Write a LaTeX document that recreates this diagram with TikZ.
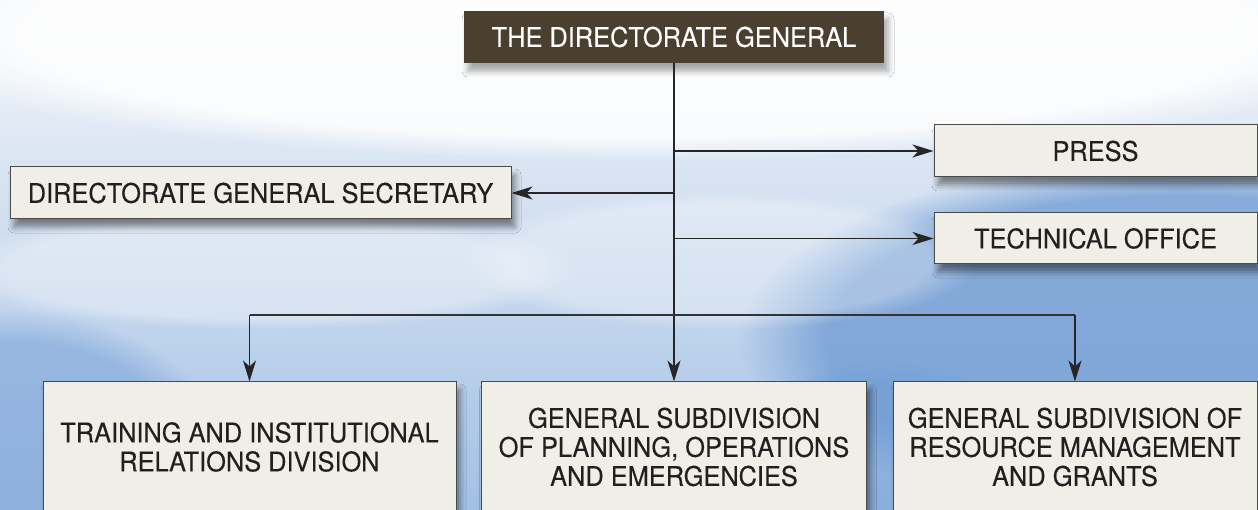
\documentclass[tikz,border=0pt]{standalone}
\usepackage{fontspec}
\setmainfont{TeX Gyre Heros}[FakeStretch=0.94, FakeBold=0.25]
\usetikzlibrary{arrows.meta,shadows.blur,fadings}
\definecolor{boxfill}{HTML}{F0EFE7}
\definecolor{boxline}{HTML}{4A4A4A}
\definecolor{topfill}{HTML}{4B3F2F}
\definecolor{txt}{HTML}{231F20}
\definecolor{skytop}{HTML}{F5F7FA}
\definecolor{skymid}{HTML}{CBDBEF}
\definecolor{skybot}{HTML}{A2C0E5}
\definecolor{skydeep}{HTML}{6E9AD3}
\definecolor{skyleft}{HTML}{7FA6D9}
\begin{document}
\begin{tikzpicture}[x=1pt,y=-1pt,
  orgbox/.style={draw=boxline, line width=1pt, fill=boxfill, text=txt, align=center,
    inner sep=0pt, font=\fontsize{27}{29}\selectfont,
    blur shadow={shadow xshift=4pt, shadow yshift=-8pt, shadow blur radius=6pt, shadow opacity=45}},
  topbox/.style={fill=topfill, text=white, align=center, inner sep=0pt,
    font=\fontsize{27}{29}\selectfont,
    blur shadow={shadow xshift=4pt, shadow yshift=-8pt, shadow blur radius=6pt, shadow opacity=35}},
  conn/.style={draw=black!85, line width=1.2pt, -{Stealth[length=21pt,width=13pt,inset=6pt]}},
  busline/.style={draw=black!80, line width=1.2pt},
  blob/.style={path fading=circle with fuzzy edge 20 percent}]
\useasboundingbox (0,0) rectangle (1258,510);
% sky background
\shade[top color=skytop, bottom color=skybot, middle color=skymid] (0,0) rectangle (1258,510);
\fill[white, fill opacity=0.85, blob] (640,40) ellipse [x radius=760pt, y radius=120pt];
\fill[skydeep, fill opacity=0.75, blob] (1180,340) ellipse [x radius=440pt, y radius=180pt];
\fill[skyleft, fill opacity=0.6, blob] (10,470) ellipse [x radius=220pt, y radius=160pt];
\fill[skydeep, fill opacity=0.45, blob] (880,480) ellipse [x radius=160pt, y radius=120pt];
\fill[white, fill opacity=0.35, blob] (260,270) ellipse [x radius=320pt, y radius=60pt];
\fill[white, fill opacity=0.3, blob] (720,260) ellipse [x radius=260pt, y radius=70pt];
% nodes
\node[topbox, minimum width=420pt, minimum height=52pt] (top) at (674,37) {THE DIRECTORATE GENERAL};
\node[orgbox, minimum width=323pt, minimum height=52pt] (press) at (1095.5,151) {PRESS};
\node[orgbox, minimum width=323pt, minimum height=51pt] (tech) at (1095.5,238.5) {TECHNICAL OFFICE};
\node[orgbox, minimum width=501pt, minimum height=52pt] (sec) at (260.5,193) {DIRECTORATE GENERAL SECRETARY};
\node[orgbox, minimum width=413pt, minimum height=130pt] (trn) at (249.5,447) {TRAINING AND INSTITUTIONAL\\RELATIONS DIVISION};
\node[orgbox, minimum width=385pt, minimum height=130pt] (plan) at (674,447) {GENERAL SUBDIVISION\\OF PLANNING, OPERATIONS\\AND EMERGENCIES};
\node[orgbox, minimum width=364pt, minimum height=130pt] (res) at (1075,447) {GENERAL SUBDIVISION OF\\RESOURCE MANAGEMENT\\AND GRANTS};
% connectors
\coordinate (bus) at (674,315);
\draw[conn] (top.south) -- (plan.north);
\draw[conn] (top.south |- press.west) -- (press.west);
\draw[conn] (top.south |- sec.east) -- (sec.east);
\draw[conn] (top.south |- tech.west) -- (tech.west);
\draw[busline] (trn.north |- bus) -- (res.north |- bus);
\draw[conn] (trn.north |- bus) -- (trn.north);
\draw[conn] (res.north |- bus) -- (res.north);
\end{tikzpicture}
\end{document}
